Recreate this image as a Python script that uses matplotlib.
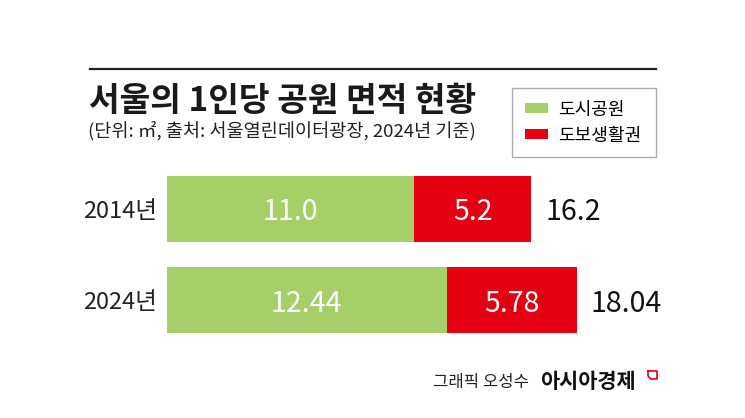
import matplotlib
matplotlib.use("Agg")
import matplotlib.pyplot as plt
from matplotlib.patches import Patch
from matplotlib.lines import Line2D

plt.rcParams['font.family'] = ['Noto Sans CJK KR', 'DejaVu Sans']

# data
years = ["2014년", "2024년"]
city_park = [11.0, 12.44]
walk_zone = [5.2, 5.78]
totals = ["16.2", "18.04"]
series_names = ["도시공원", "도보생활권"]

GREEN = "#a6cf6a"
RED = "#e50012"
W, H = 745, 418


def fx(px):
    return px / W


def fy(py):
    return 1 - py / H


fig = plt.figure(figsize=(7.45, 4.18), dpi=100)

# bar axes: 22.5 px per unit, bars centered at y=208.7 and 300 px
x0_px, unit_px = 166.7, 22.5
top_px, bot_px = 160, 350
row_px = 91.3
ax = fig.add_axes([fx(x0_px), fy(bot_px), 20 * unit_px / W, (bot_px - top_px) / H])
ax.set_xlim(0, 20)
ax.set_ylim((bot_px - 208.7) / row_px, -(208.7 - top_px) / row_px)

ypos = list(range(len(years)))
ax.barh(ypos, city_park, height=0.725, color=GREEN, label=series_names[0])
ax.barh(ypos, walk_zone, left=city_park, height=0.725, color=RED, label=series_names[1])

for i, (a, b) in enumerate(zip(city_park, walk_zone)):
    ax.text(a / 2, i, f"{a}", ha='center', va='center_baseline', color='white', fontsize=20.5)
    ax.text(a + b / 2, i, f"{b}", ha='center', va='center_baseline', color='white', fontsize=20.5)
    ax.annotate(totals[i], xy=(a + b, i), xytext=(10, 0), textcoords='offset points',
                ha='left', va='center_baseline', fontsize=20.5, color='#111111')

ax.set_yticks(ypos, labels=years)
ax.tick_params(axis='y', length=0, pad=7, labelsize=17, labelcolor='#222222')
ax.set_xticks([])
for s in ax.spines.values():
    s.set_visible(False)

# header rule
fig.add_artist(Line2D([fx(90), fx(656)], [fy(69), fy(69)], color='#222222', lw=1.6))

fig.text(fx(89), fy(111), "서울의 1인당 공원 면적 현황", fontsize=24, fontweight='bold',
         color='#1a1a1a', va='baseline')
fig.text(fx(88), fy(136), "(단위: ㎡, 출처: 서울열린데이터광장, 2024년 기준)", fontsize=13.4,
         color='#222222', va='baseline')

handles = [Patch(facecolor=GREEN), Patch(facecolor=RED)]
leg = fig.legend(handles, series_names, loc='upper left',
                 bbox_to_anchor=(fx(512), fy(158), fx(656) - fx(512), fy(88) - fy(158)),
                 mode='expand', fontsize=13, frameon=True, fancybox=False,
                 edgecolor='#999999', borderpad=0.7, handlelength=1.3, handleheight=0.45,
                 handletextpad=0.55, labelspacing=0.45, borderaxespad=0)
leg.get_frame().set_linewidth(1.0)

# credits
fig.text(fx(433), fy(387), "그래픽 오성수", fontsize=12, color='#222222', va='baseline')
fig.text(fx(540), fy(388), "아시아경제", fontsize=15, fontweight='bold', color='#111111', va='baseline')
icon_x = [648, 657, 657, 651, 648, 648]
icon_y = [371, 371, 379, 379, 376, 371]
fig.add_artist(Line2D([fx(v) for v in icon_x], [fy(v) for v in icon_y], color=RED, lw=1.2))

fig.savefig("out.png", dpi=100)
